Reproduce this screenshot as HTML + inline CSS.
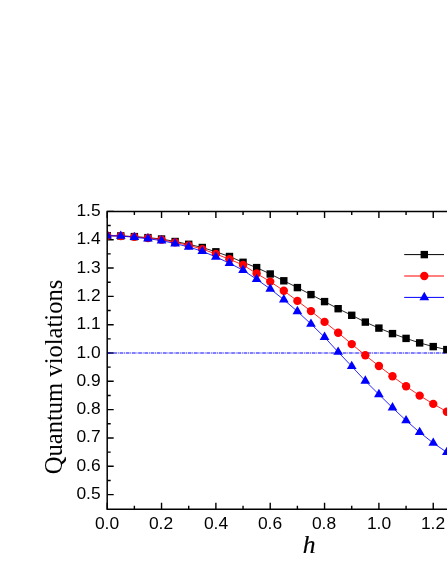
<!DOCTYPE html>
<html><head><meta charset="utf-8"><title>chart</title>
<style>
html,body{margin:0;padding:0;background:#fff;}
body{width:447px;height:578px;position:relative;overflow:hidden;font-family:"Liberation Sans",sans-serif;color:#000;}
.yl,.xl,.xlab{will-change:transform;}
.yl{position:absolute;left:40px;width:60.6px;text-align:right;font-size:17.4px;line-height:20px;height:20px;white-space:nowrap;}
.xl{position:absolute;top:512.6px;width:60px;text-align:center;font-size:17.4px;line-height:20px;height:20px;white-space:nowrap;}
.ylab{position:absolute;left:53.5px;top:376.7px;width:0;height:0;}
.ylab span{position:absolute;left:-150px;top:-15px;width:300px;height:30px;line-height:30px;text-align:center;font-family:"Liberation Serif",serif;font-size:24.6px;transform:rotate(-90deg);white-space:nowrap;}
.xlab{position:absolute;left:279.4px;top:530.3px;width:60px;text-align:center;font-family:"Liberation Serif",serif;font-style:italic;font-size:25.5px;line-height:30px;-webkit-text-stroke:0.2px #000;}
</style></head><body>
<svg width="447" height="578" viewBox="0 0 447 578" style="position:absolute;left:0;top:0">
<rect width="447" height="578" fill="#fff"/>
<path d="M107.20 509.2 v-6.5 M107.20 211.4 v6.5 M134.37 509.2 v-3.5 M134.37 211.4 v3.5 M161.54 509.2 v-6.5 M161.54 211.4 v6.5 M188.71 509.2 v-3.5 M188.71 211.4 v3.5 M215.88 509.2 v-6.5 M215.88 211.4 v6.5 M243.05 509.2 v-3.5 M243.05 211.4 v3.5 M270.22 509.2 v-6.5 M270.22 211.4 v6.5 M297.39 509.2 v-3.5 M297.39 211.4 v3.5 M324.56 509.2 v-6.5 M324.56 211.4 v6.5 M351.73 509.2 v-3.5 M351.73 211.4 v3.5 M378.90 509.2 v-6.5 M378.90 211.4 v6.5 M406.07 509.2 v-3.5 M406.07 211.4 v3.5 M433.24 509.2 v-6.5 M433.24 211.4 v6.5 M107.2 494.60 h6.5 M107.2 480.44 h3.5 M107.2 466.28 h6.5 M107.2 452.12 h3.5 M107.2 437.96 h6.5 M107.2 423.80 h3.5 M107.2 409.64 h6.5 M107.2 395.48 h3.5 M107.2 381.32 h6.5 M107.2 367.16 h3.5 M107.2 353.00 h6.5 M107.2 338.84 h3.5 M107.2 324.68 h6.5 M107.2 310.52 h3.5 M107.2 296.36 h6.5 M107.2 282.20 h3.5 M107.2 268.04 h6.5 M107.2 253.88 h3.5 M107.2 239.72 h6.5 M107.2 225.56 h3.5 M107.2 211.40 h6.5" fill="none" stroke="#000" stroke-width="1.4"/>
<line x1="107.2" y1="353.00" x2="447" y2="353.00" stroke="#0000ff" stroke-width="1.2" stroke-dasharray="3.7 0.8 0.9 0.8"/>
<polyline points="107.20,235.70 120.78,235.90 134.37,236.60 147.95,237.60 161.54,239.00 175.12,241.50 188.71,244.30 202.29,247.50 215.88,251.80 229.47,256.50 243.05,262.30 256.63,267.60 270.22,274.00 283.81,280.80 297.39,287.60 310.97,294.60 324.56,301.60 338.14,308.70 351.73,315.30 365.31,322.10 378.90,328.10 392.49,333.60 406.07,338.40 419.65,342.90 433.24,346.60 446.82,349.60" fill="none" stroke="#000" stroke-width="0.85"/>
<rect x="107.20" y="232.00" width="3.7" height="7.4" fill="#000"/>
<rect x="117.08" y="232.20" width="7.4" height="7.4" fill="#000"/>
<rect x="130.67" y="232.90" width="7.4" height="7.4" fill="#000"/>
<rect x="144.25" y="233.90" width="7.4" height="7.4" fill="#000"/>
<rect x="157.84" y="235.30" width="7.4" height="7.4" fill="#000"/>
<rect x="171.43" y="237.80" width="7.4" height="7.4" fill="#000"/>
<rect x="185.01" y="240.60" width="7.4" height="7.4" fill="#000"/>
<rect x="198.59" y="243.80" width="7.4" height="7.4" fill="#000"/>
<rect x="212.18" y="248.10" width="7.4" height="7.4" fill="#000"/>
<rect x="225.77" y="252.80" width="7.4" height="7.4" fill="#000"/>
<rect x="239.35" y="258.60" width="7.4" height="7.4" fill="#000"/>
<rect x="252.94" y="263.90" width="7.4" height="7.4" fill="#000"/>
<rect x="266.52" y="270.30" width="7.4" height="7.4" fill="#000"/>
<rect x="280.11" y="277.10" width="7.4" height="7.4" fill="#000"/>
<rect x="293.69" y="283.90" width="7.4" height="7.4" fill="#000"/>
<rect x="307.27" y="290.90" width="7.4" height="7.4" fill="#000"/>
<rect x="320.86" y="297.90" width="7.4" height="7.4" fill="#000"/>
<rect x="334.44" y="305.00" width="7.4" height="7.4" fill="#000"/>
<rect x="348.03" y="311.60" width="7.4" height="7.4" fill="#000"/>
<rect x="361.61" y="318.40" width="7.4" height="7.4" fill="#000"/>
<rect x="375.20" y="324.40" width="7.4" height="7.4" fill="#000"/>
<rect x="388.79" y="329.90" width="7.4" height="7.4" fill="#000"/>
<rect x="402.37" y="334.70" width="7.4" height="7.4" fill="#000"/>
<rect x="415.95" y="339.20" width="7.4" height="7.4" fill="#000"/>
<rect x="429.54" y="342.90" width="7.4" height="7.4" fill="#000"/>
<rect x="443.12" y="345.90" width="7.4" height="7.4" fill="#000"/>
<polyline points="107.20,235.70 120.78,235.94 134.37,236.89 147.95,238.06 161.54,239.67 175.12,242.38 188.71,245.39 202.29,249.10 215.88,253.94 229.47,259.31 243.05,265.00 256.63,273.50 270.22,281.60 283.81,290.80 297.39,300.90 310.97,311.10 324.56,321.90 338.14,332.70 351.73,344.10 365.31,355.30 378.90,366.00 392.49,376.30 406.07,386.30 419.65,395.60 433.24,403.90 446.82,411.70" fill="none" stroke="#ff0000" stroke-width="0.85"/>
<clipPath id="c"><rect x="107.2" y="0" width="400" height="578"/></clipPath>
<g clip-path="url(#c)">
<circle cx="107.20" cy="235.70" r="4.2" fill="#ff0000"/>
<circle cx="120.78" cy="235.94" r="4.2" fill="#ff0000"/>
<circle cx="134.37" cy="236.89" r="4.2" fill="#ff0000"/>
<circle cx="147.95" cy="238.06" r="4.2" fill="#ff0000"/>
<circle cx="161.54" cy="239.67" r="4.2" fill="#ff0000"/>
<circle cx="175.12" cy="242.38" r="4.2" fill="#ff0000"/>
<circle cx="188.71" cy="245.39" r="4.2" fill="#ff0000"/>
<circle cx="202.29" cy="249.10" r="4.2" fill="#ff0000"/>
<circle cx="215.88" cy="253.94" r="4.2" fill="#ff0000"/>
<circle cx="229.47" cy="259.31" r="4.2" fill="#ff0000"/>
<circle cx="243.05" cy="265.00" r="4.2" fill="#ff0000"/>
<circle cx="256.63" cy="273.50" r="4.2" fill="#ff0000"/>
<circle cx="270.22" cy="281.60" r="4.2" fill="#ff0000"/>
<circle cx="283.81" cy="290.80" r="4.2" fill="#ff0000"/>
<circle cx="297.39" cy="300.90" r="4.2" fill="#ff0000"/>
<circle cx="310.97" cy="311.10" r="4.2" fill="#ff0000"/>
<circle cx="324.56" cy="321.90" r="4.2" fill="#ff0000"/>
<circle cx="338.14" cy="332.70" r="4.2" fill="#ff0000"/>
<circle cx="351.73" cy="344.10" r="4.2" fill="#ff0000"/>
<circle cx="365.31" cy="355.30" r="4.2" fill="#ff0000"/>
<circle cx="378.90" cy="366.00" r="4.2" fill="#ff0000"/>
<circle cx="392.49" cy="376.30" r="4.2" fill="#ff0000"/>
<circle cx="406.07" cy="386.30" r="4.2" fill="#ff0000"/>
<circle cx="419.65" cy="395.60" r="4.2" fill="#ff0000"/>
<circle cx="433.24" cy="403.90" r="4.2" fill="#ff0000"/>
<circle cx="446.82" cy="411.70" r="4.2" fill="#ff0000"/>
</g>
<polyline points="107.20,235.70 120.78,236.00 134.37,237.30 147.95,238.70 161.54,240.60 175.12,243.60 188.71,246.90 202.29,251.30 215.88,256.90 229.47,263.20 243.05,270.20 256.63,279.30 270.22,288.90 283.81,299.70 297.39,311.40 310.97,324.00 324.56,337.20 338.14,352.00 351.73,366.30 365.31,380.90 378.90,394.40 392.49,407.70 406.07,420.50 419.65,432.30 433.24,443.00 446.82,452.30" fill="none" stroke="#0000ff" stroke-width="0.85"/>
<g clip-path="url(#c)">
<polygon points="107.20,230.10 102.35,238.50 112.05,238.50" fill="#0000ff"/>
<polygon points="120.78,230.40 115.94,238.80 125.63,238.80" fill="#0000ff"/>
<polygon points="134.37,231.70 129.52,240.10 139.22,240.10" fill="#0000ff"/>
<polygon points="147.95,233.10 143.10,241.50 152.80,241.50" fill="#0000ff"/>
<polygon points="161.54,235.00 156.69,243.40 166.39,243.40" fill="#0000ff"/>
<polygon points="175.12,238.00 170.28,246.40 179.97,246.40" fill="#0000ff"/>
<polygon points="188.71,241.30 183.86,249.70 193.56,249.70" fill="#0000ff"/>
<polygon points="202.29,245.70 197.44,254.10 207.14,254.10" fill="#0000ff"/>
<polygon points="215.88,251.30 211.03,259.70 220.73,259.70" fill="#0000ff"/>
<polygon points="229.47,257.60 224.62,266.00 234.31,266.00" fill="#0000ff"/>
<polygon points="243.05,264.60 238.20,273.00 247.90,273.00" fill="#0000ff"/>
<polygon points="256.63,273.70 251.78,282.10 261.49,282.10" fill="#0000ff"/>
<polygon points="270.22,283.30 265.37,291.70 275.07,291.70" fill="#0000ff"/>
<polygon points="283.81,294.10 278.95,302.50 288.66,302.50" fill="#0000ff"/>
<polygon points="297.39,305.80 292.54,314.20 302.24,314.20" fill="#0000ff"/>
<polygon points="310.97,318.40 306.12,326.80 315.82,326.80" fill="#0000ff"/>
<polygon points="324.56,331.60 319.71,340.00 329.41,340.00" fill="#0000ff"/>
<polygon points="338.14,346.40 333.29,354.80 343.00,354.80" fill="#0000ff"/>
<polygon points="351.73,360.70 346.88,369.10 356.58,369.10" fill="#0000ff"/>
<polygon points="365.31,375.30 360.46,383.70 370.16,383.70" fill="#0000ff"/>
<polygon points="378.90,388.80 374.05,397.20 383.75,397.20" fill="#0000ff"/>
<polygon points="392.49,402.10 387.63,410.50 397.34,410.50" fill="#0000ff"/>
<polygon points="406.07,414.90 401.22,423.30 410.92,423.30" fill="#0000ff"/>
<polygon points="419.65,426.70 414.80,435.10 424.50,435.10" fill="#0000ff"/>
<polygon points="433.24,437.40 428.39,445.80 438.09,445.80" fill="#0000ff"/>
<polygon points="446.82,446.70 441.97,455.10 451.68,455.10" fill="#0000ff"/>
</g>
<path d="M107.2 509.2 V211.4 H447" fill="none" stroke="#000" stroke-width="1.5" stroke-linecap="square"/>
<path d="M107.2 509.2 H447" fill="none" stroke="#000" stroke-width="1.5"/>
<line x1="404.2" y1="254.6" x2="444" y2="254.6" stroke="#000" stroke-width="1"/>
<rect x="420.6" y="250.9" width="7.4" height="7.4" fill="#000"/>
<line x1="404.2" y1="276.0" x2="444" y2="276.0" stroke="#ff0000" stroke-width="1"/>
<circle cx="424.3" cy="276.0" r="4.2" fill="#ff0000"/>
<line x1="404.2" y1="297.4" x2="444" y2="297.4" stroke="#0000ff" stroke-width="1"/>
<polygon points="424.30,291.80 419.45,300.20 429.15,300.20" fill="#0000ff"/>
</svg>
<div class="yl" style="top:483.10px">0.5</div><div class="yl" style="top:454.78px">0.6</div><div class="yl" style="top:426.46px">0.7</div><div class="yl" style="top:398.14px">0.8</div><div class="yl" style="top:369.82px">0.9</div><div class="yl" style="top:341.50px">1.0</div><div class="yl" style="top:313.18px">1.1</div><div class="yl" style="top:284.86px">1.2</div><div class="yl" style="top:256.54px">1.3</div><div class="yl" style="top:228.22px">1.4</div><div class="yl" style="top:199.90px">1.5</div><div class="xl" style="left:77.00px">0.0</div><div class="xl" style="left:131.34px">0.2</div><div class="xl" style="left:185.68px">0.4</div><div class="xl" style="left:240.02px">0.6</div><div class="xl" style="left:294.36px">0.8</div><div class="xl" style="left:348.70px">1.0</div><div class="xl" style="left:403.04px">1.2</div>
<div class="ylab"><span>Quantum violations</span></div>
<div class="xlab">h</div>
</body></html>
